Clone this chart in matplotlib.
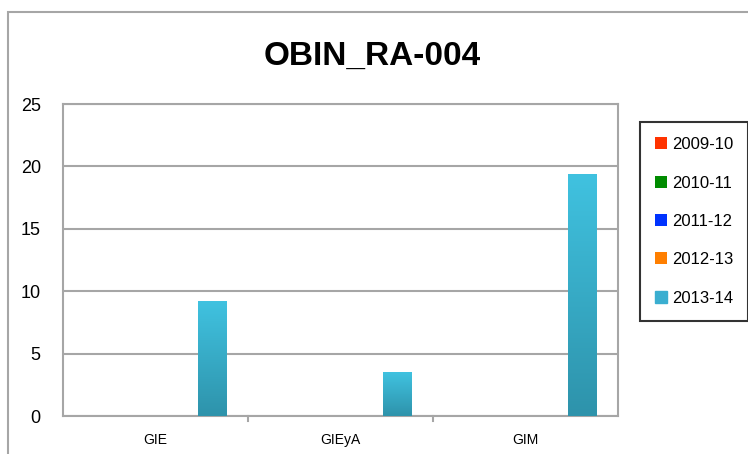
import numpy as np
import matplotlib
matplotlib.use('Agg')
import matplotlib.pyplot as plt
from matplotlib.patches import Rectangle
from matplotlib.colors import LinearSegmentedColormap

plt.rcParams['font.family'] = ['Liberation Sans Narrow', 'Liberation Sans', 'DejaVu Sans']

# datos
categorias = ['GIE', 'GIEyA', 'GIM']
series = ['2009-10', '2010-11', '2011-12', '2012-13', '2013-14']
v_2009 = [0, 0, 0]
v_2010 = [0, 0, 0]
v_2011 = [0, 0, 0]
v_2012 = [0, 0, 0]
v_2013 = [9.2, 3.5, 19.4]
valores = [v_2009, v_2010, v_2011, v_2012, v_2013]
colores = ['#ff3300', '#008c00', '#0033ff', '#ff7f00', '#3bb8d6']

fig = plt.figure(figsize=(7.48, 4.54), dpi=100)
ax = fig.add_axes([0.0842, 0.0837, 0.742, 0.687])

# borde exterior del grafico
fig.patches.append(Rectangle((8 / 748, -0.05), 1.0, 1 - 12 / 454 + 0.05,
                             transform=fig.transFigure, fill=False,
                             edgecolor='#a6a6a6', linewidth=1.5))

x = np.arange(len(categorias))
w = 1 / 6.5
grad = LinearSegmentedColormap.from_list('g', ['#2e93ab', '#40c2e0'])
for i, (nombre, vals) in enumerate(zip(series, valores)):
    pos = x + (i - 2) * w
    bars = ax.bar(pos, vals, width=w, color=colores[i], label=nombre, zorder=3)
    if i == 4:
        for b in bars:
            h = b.get_height()
            if h <= 0:
                continue
            im = ax.imshow(np.linspace(0, 1, 100).reshape(-1, 1), cmap=grad,
                           origin='lower', aspect='auto', zorder=4,
                           extent=[b.get_x(), b.get_x() + b.get_width(), 0, h])
            im.set_clip_path(b)

ax.set_xlim(-0.5, 2.5)
ax.set_ylim(0, 25)
ax.set_yticks([0, 5, 10, 15, 20, 25])
ax.set_xticks(x)
ax.set_xticklabels(categorias, fontsize=10)
ax.tick_params(axis='y', labelsize=13, length=0, pad=16)
ax.tick_params(axis='x', length=0, pad=12)
# marcas entre categorias
for xb in [0.5, 1.5]:
    ax.plot([xb, xb], [0, -0.4], color='#a6a6a6', lw=1.5, clip_on=False, zorder=5)

ax.grid(axis='y', color='#a6a6a6', linewidth=1.5, zorder=0)
for s in ax.spines.values():
    s.set_color('#a6a6a6')
    s.set_linewidth(1.5)

fig.text(0.497, 0.875, 'OBIN_RA-004', ha='center', va='center',
         fontsize=24, fontweight='bold')

leg = ax.legend(loc='upper left', bbox_to_anchor=(1.0396, 0.942), fontsize=12,
                frameon=True, fancybox=False, edgecolor='black',
                handlelength=0.75, handleheight=0.75, handletextpad=0.25,
                labelspacing=1.4, borderpad=0.9, borderaxespad=0)
leg.get_frame().set_linewidth(1.5)
leg.legend_handles[4].set_color('#3aaed0')

fig.savefig('out.png', dpi=100)
